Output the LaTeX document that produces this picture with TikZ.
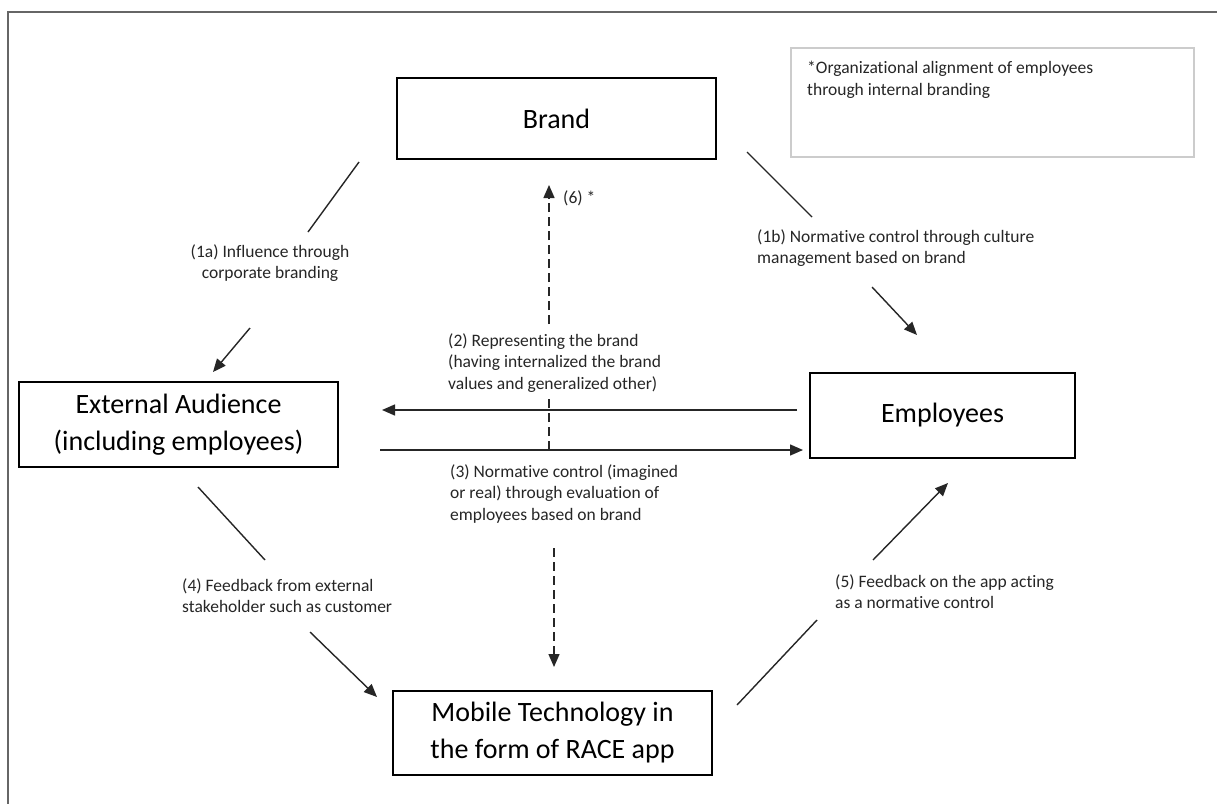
\documentclass[tikz,border=0pt]{standalone}
\usepackage{fontspec}
\setmainfont{Carlito}[Ligatures=NoCommon]
\usetikzlibrary{arrows.meta}
\begin{document}
\begin{tikzpicture}[x=1pt,y=-1pt,
  box/.style={draw=black, line width=1.5pt, align=center, font=\fontsize{28}{37}\selectfont, inner sep=0pt},
  lbl/.style={align=left, font=\fontsize{17.5}{21.5}\selectfont, inner sep=0pt, text=black!85},
  conn/.style={line width=1.4pt, draw=black!85},
  arr/.style={conn, -{Triangle[length=13pt,width=11pt]}},
  dsh/.style={arr, dash pattern=on 9pt off 5pt}]
\useasboundingbox (0,0) rectangle (1217,803);
\clip (0,0) rectangle (1217,803);
\fill[white] (0,0) rectangle (1217,803);
% outer frame
\draw[line width=2.5pt, draw=black!60] (8,12) rectangle (1250,840);

% boxes
\node[box, minimum width=319pt, minimum height=81pt] (brand) at (556.5,118.5) {Brand};
\node[box, minimum width=319pt, minimum height=85pt] (ext) at (178.5,424.5) {External Audience\\(including employees)};
\node[box, minimum width=265pt, minimum height=85pt] (emp) at (942.5,415.5) {Employees};
\node[box, minimum width=319pt, minimum height=84pt] (mob) at (552.5,733) {Mobile Technology in\\the form of RACE app};
\node[draw=black!20, line width=1.5pt, minimum width=403pt, minimum height=109pt] (note) at (992.5,102.5) {};
\node[lbl, anchor=north west] (notetxt) at (807,61) {*Organizational alignment of employees\\through internal branding};

% (6) dashed arrow up to Brand
\coordinate (d6s) at (549,450);
\coordinate (d6e) at (549,185);
\draw[dsh] (d6s) -- (d6e);
\node[lbl, anchor=west] (l6) at (563,198) {(6) *};

% (1a)
\coordinate (a1s) at (359,162);
\coordinate (a1m) at (308,232);
\draw[conn] (a1s) -- (a1m);
\node[lbl, align=center, anchor=north] (l1a) at (270,244) {(1a) Influence through\\corporate branding};
\coordinate (a1t) at (250,328);
\coordinate (a1h) at (213,372);
\draw[arr] (a1t) -- (a1h);

% (1b)
\coordinate (b1s) at (747,152);
\coordinate (b1m) at (812,217);
\draw[conn] (b1s) -- (b1m);
\node[lbl, anchor=north west] (l1b) at (757,229) {(1b) Normative control through culture\\management based on brand};
\coordinate (b1t) at (872,287);
\coordinate (b1h) at (917,335);
\draw[arr] (b1t) -- (b1h);

% (2) and (3) horizontal arrows
\coordinate (h2s) at (797,410);
\coordinate (h2e) at (382,410);
\draw[arr] (h2s) -- (h2e);
\coordinate (h3s) at (380,450);
\coordinate (h3e) at (803,450);
\draw[arr] (h3s) -- (h3e);
\node[lbl, anchor=north west, fill=white, inner xsep=2pt, inner ysep=6pt] (l2) at (446,327) {(2) Representing the brand\\(having internalized the brand\\values and generalized other)};
\node[lbl, anchor=north west] (l3) at (450,464) {(3) Normative control (imagined\\or real) through evaluation of\\employees based on brand};

% dashed arrow down to Mobile
\coordinate (d3s) at (554,548);
\coordinate (d3e) at (554,667);
\draw[dsh] (d3s) -- (d3e);

% (4)
\coordinate (c4s) at (198,487);
\coordinate (c4m) at (265,560);
\draw[conn] (c4s) -- (c4m);
\node[lbl, anchor=north west] (l4) at (182,578) {(4) Feedback from external\\stakeholder such as customer};
\coordinate (c4t) at (310,632);
\coordinate (c4h) at (377,697);
\draw[arr] (c4t) -- (c4h);

% (5)
\coordinate (e5s) at (737,705);
\coordinate (e5m) at (817,620);
\draw[conn] (e5s) -- (e5m);
\node[lbl, anchor=north west] (l5) at (835,574) {(5) Feedback on the app acting\\as a normative control};
\coordinate (e5t) at (873,560);
\coordinate (e5h) at (948,483);
\draw[arr] (e5t) -- (e5h);
\end{tikzpicture}
\end{document}
